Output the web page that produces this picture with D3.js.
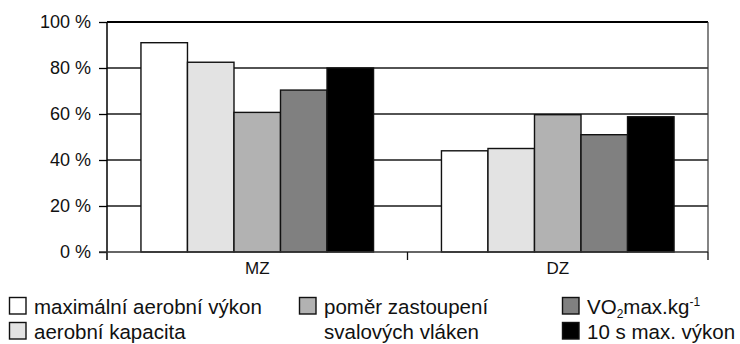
<!DOCTYPE html>
<html>
<head>
<meta charset="utf-8">
<script src="https://cdn.jsdelivr.net/npm/d3@7/dist/d3.min.js"></script>
<style>
html,body{margin:0;padding:0;background:#fff;}
svg{display:block;font-family:"Liberation Sans",Arial,sans-serif;}
</style>
</head>
<body>
<svg id="chart" width="740" height="344"></svg>
<script>
const categories = ["MZ", "DZ"];
const seriesNames = ["maximální aerobní výkon", "aerobní kapacita", "poměr zastoupení svalových vláken", "VO2max.kg-1", "10 s max. výkon"];
const seriesColors = ["#ffffff", "#e3e3e3", "#b2b2b2", "#808080", "#000000"];
const valuesMZ = [91, 82.5, 60.7, 70.4, 80];
const valuesDZ = [44, 45, 59.7, 51, 58.8];
const yTicks = [0, 20, 40, 60, 80, 100];

const values = {MZ: valuesMZ, DZ: valuesDZ};
const svg = d3.select("#chart");
const L = 107, R = 708, T = 22, B = 252;

const x0 = d3.scaleBand().domain(categories).range([L, R]).paddingInner(0).paddingOuter(0);
const x1 = d3.scaleBand().domain(d3.range(seriesNames.length)).range([0, x0.bandwidth()]).paddingInner(0).paddingOuter(0.73);
const y = d3.scaleLinear().domain([0, 100]).range([B, T]);

// gridlines
svg.append("g").selectAll("line").data(yTicks.filter(d => d > 0)).join("line")
  .attr("x1", L).attr("x2", R)
  .attr("y1", d => y(d)).attr("y2", d => y(d))
  .attr("stroke", d => d === 100 ? "#000" : "#1a1a1a")
  .attr("stroke-width", d => d === 100 ? 2 : 1.3);

// right border
svg.append("line").attr("x1", R).attr("x2", R).attr("y1", T).attr("y2", B)
  .attr("stroke", "#333").attr("stroke-width", 1.2);

// bars
const groups = svg.append("g").selectAll("g").data(categories).join("g")
  .attr("transform", c => `translate(${x0(c)},0)`);
groups.selectAll("rect").data(c => values[c].map((v, i) => ({i, v}))).join("rect")
  .attr("x", d => x1(d.i)).attr("width", x1.bandwidth())
  .attr("y", d => y(d.v)).attr("height", d => B - y(d.v))
  .attr("fill", d => seriesColors[d.i])
  .attr("stroke", "#111").attr("stroke-width", 1.4);

// y axis
const yAxis = svg.append("g").attr("transform", `translate(${L},0)`)
  .call(d3.axisLeft(y).tickValues(yTicks).tickSize(8).tickPadding(8).tickFormat(d => d + " %"));
yAxis.select(".domain").attr("stroke", "#000").attr("stroke-width", 1.5).attr("d", `M0,${T}V${B + 8}`);
yAxis.selectAll(".tick line").attr("stroke", "#000").attr("stroke-width", 1.3);
yAxis.selectAll(".tick text").attr("font-size", 18).attr("fill", "#111").attr("font-family", "Liberation Sans, Arial, sans-serif");

// x axis
const xAxis = svg.append("g").attr("transform", `translate(0,${B})`)
  .call(d3.axisBottom(x0).tickSize(0).tickPadding(10));
xAxis.select(".domain").attr("stroke", "#333").attr("stroke-width", 1.5).attr("d", `M${L - 8},0H${R}`);
xAxis.selectAll(".tick text").attr("font-size", 17).attr("fill", "#111").attr("font-family", "Liberation Sans, Arial, sans-serif");
// category separators (ticks between bands)
svg.append("g").selectAll("line").data(categories.slice(1).concat(["__end"])).join("line")
  .attr("x1", c => c === "__end" ? R : x0(c)).attr("x2", c => c === "__end" ? R : x0(c))
  .attr("y1", B).attr("y2", B + 8).attr("stroke", "#111").attr("stroke-width", 1.3);

// legend
const legendPos = [
  {x: 9, y: 297, lines: ["maximální aerobní výkon"]},
  {x: 9, y: 322, lines: ["aerobní kapacita"]},
  {x: 299, y: 297, lines: ["poměr zastoupení", "svalových vláken"]},
  {x: 562, y: 297, lines: null},
  {x: 562, y: 322, lines: ["10 s max. výkon"]}
];
const lg = svg.append("g").selectAll("g").data(seriesNames).join("g")
  .attr("transform", (d, i) => `translate(${legendPos[i].x},${legendPos[i].y})`);
lg.append("rect").attr("x", 0.5).attr("y", 0.5).attr("width", 16.5).attr("height", 16.5)
  .attr("fill", (d, i) => seriesColors[i]).attr("stroke", "#111").attr("stroke-width", 1.4);
lg.each(function(d, i) {
  const g = d3.select(this);
  const t = g.append("text").attr("x", 25).attr("y", 17).attr("font-size", 20.5).attr("fill", "#111");
  if (legendPos[i].lines) {
    legendPos[i].lines.forEach((ln, k) => {
      t.append("tspan").attr("x", 25).attr("dy", k === 0 ? 0 : 25).text(ln);
    });
  } else {
    t.append("tspan").text("VO");
    t.append("tspan").attr("font-size", 12).attr("dy", 4).text("2");
    t.append("tspan").attr("dy", -4).text("max.kg");
    t.append("tspan").attr("font-size", 12).attr("dy", -8).text("-1");
  }
});
</script>
</body>
</html>
